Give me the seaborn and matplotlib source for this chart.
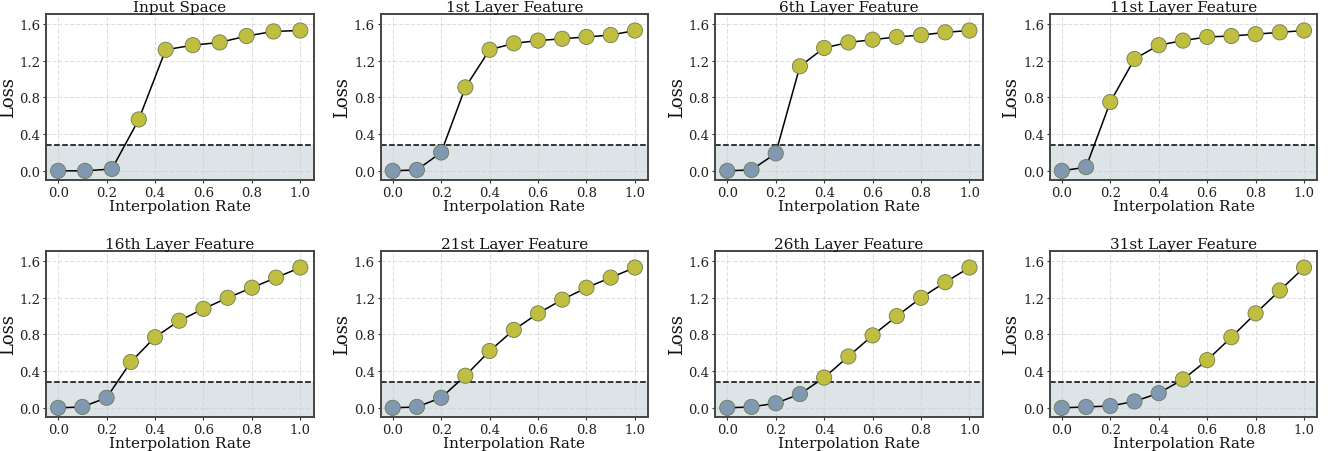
import numpy as np
import pandas as pd
import matplotlib
matplotlib.use("Agg")
import matplotlib.pyplot as plt
import seaborn as sns

titles = ["Input Space", "1st Layer Feature", "6th Layer Feature", "11st Layer Feature",
          "16th Layer Feature", "21st Layer Feature", "26th Layer Feature", "31st Layer Feature"]

rates_input = [0.0, 0.111, 0.222, 0.333, 0.444, 0.556, 0.667, 0.778, 0.889, 1.0]
rates_layer = [0.0, 0.1, 0.2, 0.3, 0.4, 0.5, 0.6, 0.7, 0.8, 0.9, 1.0]

loss_input = [0.0, 0.0, 0.02, 0.56, 1.32, 1.37, 1.40, 1.47, 1.52, 1.53]
loss_l1 = [0.0, 0.01, 0.20, 0.91, 1.32, 1.39, 1.42, 1.44, 1.46, 1.48, 1.53]
loss_l6 = [0.0, 0.01, 0.19, 1.14, 1.34, 1.40, 1.43, 1.46, 1.48, 1.51, 1.53]
loss_l11 = [0.0, 0.04, 0.75, 1.22, 1.37, 1.42, 1.46, 1.47, 1.49, 1.51, 1.53]
loss_l16 = [0.0, 0.01, 0.11, 0.50, 0.77, 0.95, 1.08, 1.20, 1.31, 1.42, 1.53]
loss_l21 = [0.0, 0.01, 0.11, 0.35, 0.62, 0.85, 1.03, 1.18, 1.31, 1.42, 1.53]
loss_l26 = [0.0, 0.01, 0.05, 0.15, 0.33, 0.56, 0.79, 1.00, 1.20, 1.37, 1.53]
loss_l31 = [0.0, 0.01, 0.02, 0.07, 0.16, 0.31, 0.52, 0.77, 1.03, 1.28, 1.53]

threshold = 0.28

series = [
    (rates_input, loss_input), (rates_layer, loss_l1), (rates_layer, loss_l6), (rates_layer, loss_l11),
    (rates_layer, loss_l16), (rates_layer, loss_l21), (rates_layer, loss_l26), (rates_layer, loss_l31),
]

sns.set_theme(style="whitegrid")
plt.rcParams['font.family'] = ['DejaVu Serif']
plt.rcParams['mathtext.fontset'] = 'dejavuserif'

fig, axes = plt.subplots(2, 4, figsize=(13.3, 4.52), dpi=100)
fig.subplots_adjust(left=0.0346, right=0.9905, top=0.9668, bottom=0.0752, wspace=0.25, hspace=0.428)

blue = "#8098b1"
yellow = "#bfbe3e"

for ax, title, (x, y) in zip(axes.flat, titles, series):
    df = pd.DataFrame({"rate": x, "loss": y})
    df["group"] = np.where(df["loss"] < threshold, "below", "above")
    ax.axhspan(-0.1, threshold, color="#dde4e8", zorder=0)
    ax.axhline(threshold, color="black", linestyle="--", linewidth=1.1, zorder=1)
    sns.lineplot(data=df, x="rate", y="loss", ax=ax, color="black", linewidth=1.1, zorder=2)
    sns.scatterplot(data=df, x="rate", y="loss", hue="group", palette={"below": blue, "above": yellow},
                    s=120, edgecolor="#6e7a55", linewidth=0.6, ax=ax, legend=False, zorder=3)
    ax.set_xlim(-0.05, 1.055)
    ax.set_ylim(-0.1, 1.71)
    ax.set_yticks([0.0, 0.4, 0.8, 1.2, 1.6])
    ax.set_xticks([0.0, 0.2, 0.4, 0.6, 0.8, 1.0])
    ax.set_yticklabels(["0.0", "0.4", "0.8", "1.2", "1.6"])
    ax.set_xticklabels(["0.0", "0.2", "0.4", "0.6", "0.8", "1.0"])
    ax.tick_params(axis="both", which="major", bottom=True, left=True, labelsize=9.5, pad=1.5,
                   length=2.5, width=0.8, color="#333333", labelcolor="#222222")
    ax.set_title(title, fontsize=11, pad=2, color="#111111")
    ax.set_xlabel("Interpolation Rate", fontsize=11, labelpad=0, color="#111111")
    ax.set_ylabel("Loss", fontsize=13, labelpad=2, color="#111111")
    ax.grid(True, linestyle="--", color="#cccccc", alpha=0.6, linewidth=0.8)
    ax.set_facecolor("white")
    for sp in ax.spines.values():
        sp.set_color("#444444")
        sp.set_linewidth(1.4)

fig.savefig("out.png", dpi=100)
